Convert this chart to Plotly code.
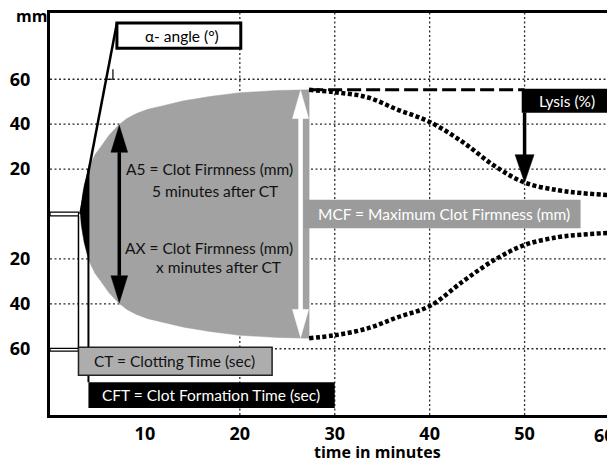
import plotly.graph_objects as go

# ---------------- data ----------------
x_ticks = [10, 20, 30, 40, 50]
x_tick_labels = ["10", "20", "30", "40", "50"]
x_last_label = "60"
y_ticks = [-60, -40, -20, 20, 40, 60]
y_tick_labels = ["60", "40", "20", "20", "40", "60"]
grid_x = [20, 30, 40, 50]
grid_y = [-60, -40, -20, 20, 40, 60]

# clot firmness curve (minutes, mm)
clot_t = [3.2, 3.3, 3.45, 3.62, 3.82, 4.05, 4.35, 4.75, 5.3, 6.2, 7.2, 8.1, 9.1, 10.3, 11.7, 14.1, 17.0, 20.0, 24.0, 27.3]
clot_amp = [0, 5, 9, 13, 16.8, 20, 23, 26.5, 29.6, 35, 39.5, 42.5, 44.7, 46.6, 48, 50.4, 52.4, 54, 55, 55.3]

# lysis curves after MCF
lysis_t = [27.3, 30, 33.4, 36.6, 40, 43.5, 46.8, 50, 53.5, 56, 59]
lysis_upper = [55.3, 54.2, 52, 46.5, 41, 32, 21.5, 14, 10.6, 9.3, 8.4]
lysis_lower = [-55.3, -54, -51, -46, -41, -30, -20.5, -13.8, -10.3, -9.2, -8.4]

ct_time = 3.0
cft_time = 4.05
cft_amp = 20
a5_time = 7.3
a5_amp = 39.5
mcf_time = 26.4
mcf_amp = 55.3
lysis_time = 50
lysis_amp = 14
alpha_t = [3.2, 7.05]
alpha_a = [0, 85]

# ---------------- figure ----------------
fig = go.Figure()

tip_up = [(t, a) for t, a in zip(clot_t, clot_amp) if t <= cft_time]
body_up = [(t, a) for t, a in zip(clot_t, clot_amp) if t >= cft_time]
tip_x = [p[0] for p in tip_up] + [p[0] for p in reversed(tip_up)]
tip_y = [p[1] for p in tip_up] + [-p[1] for p in reversed(tip_up)]
body_x = [p[0] for p in body_up] + [p[0] for p in reversed(body_up)]
body_y = [p[1] for p in body_up] + [-p[1] for p in reversed(body_up)]

fig.add_trace(go.Scatter(x=body_x, y=body_y, fill="toself", fillcolor="#a2a2a2",
                         line=dict(color="#a2a2a2", width=0.5), mode="lines",
                         hoverinfo="skip", showlegend=False))
fig.add_trace(go.Scatter(x=tip_x, y=tip_y, fill="toself", fillcolor="black",
                         line=dict(color="black", width=0.5), mode="lines",
                         hoverinfo="skip", showlegend=False))

for ys in (lysis_upper, lysis_lower):
    fig.add_trace(go.Scatter(x=lysis_t, y=ys, mode="lines",
                             line=dict(color="black", width=4.5, dash="4px,2.5px", shape="spline"),
                             hoverinfo="skip", showlegend=False))

fig.add_trace(go.Scatter(x=[clot_t[-1], lysis_time], y=[mcf_amp, mcf_amp], mode="lines",
                         line=dict(color="black", width=3, dash="14px,5px"),
                         hoverinfo="skip", showlegend=False))

shapes = []
for gx in grid_x:
    shapes.append(dict(type="line", x0=gx, x1=gx, y0=-89.5, y1=89.5, layer="below",
                       line=dict(color="#2a2a2a", width=1.3, dash="2px,2.5px")))
for gy in grid_y:
    shapes.append(dict(type="line", x0=0, x1=59, y0=gy, y1=gy, layer="below",
                       line=dict(color="#2a2a2a", width=1.3, dash="2px,2.5px")))

def tri(xc, ytip, hw, length, direction):
    yb = ytip - direction * length
    return f"M {xc-hw},{yb} L {xc+hw},{yb} L {xc},{ytip} Z"

shapes.append(dict(type="rect", x0=0, x1=ct_time, y0=-0.8, y1=0.8, fillcolor="white",
                   line=dict(color="black", width=1.2)))
shapes.append(dict(type="rect", x0=0, x1=ct_time, y0=-61.1, y1=-59.8, fillcolor="white",
                   line=dict(color="black", width=1.2)))
shapes.append(dict(type="line", x0=ct_time, x1=ct_time, y0=-0.8, y1=-59.8,
                   line=dict(color="black", width=1.5)))
shapes.append(dict(type="line", x0=cft_time, x1=cft_time, y0=cft_amp, y1=-74.9,
                   line=dict(color="black", width=2)))
shapes.append(dict(type="line", x0=alpha_t[0], x1=alpha_t[1], y0=alpha_a[0], y1=alpha_a[1],
                   line=dict(color="black", width=2.5)))
t60 = alpha_t[0] + (60 - alpha_a[0]) / (alpha_a[1] - alpha_a[0]) * (alpha_t[1] - alpha_t[0])
shapes.append(dict(type="path", path=f"M {t60},60 L 6.63,60 L 6.63,64.5",
                   line=dict(color="black", width=1.2)))

head_w, head_l = 0.88, 12
shapes.append(dict(type="line", x0=a5_time, x1=a5_time, y0=-a5_amp + head_l, y1=a5_amp - head_l,
                   line=dict(color="black", width=3.5)))
shapes.append(dict(type="path", path=tri(a5_time, a5_amp, head_w, head_l, 1),
                   fillcolor="black", line=dict(color="black", width=0.5)))
shapes.append(dict(type="path", path=tri(a5_time, -a5_amp, head_w, head_l, -1),
                   fillcolor="black", line=dict(color="black", width=0.5)))

shapes.append(dict(type="line", x0=mcf_time, x1=mcf_time, y0=-mcf_amp + 12, y1=mcf_amp - 12,
                   line=dict(color="white", width=4.5)))
shapes.append(dict(type="path", path=tri(mcf_time, mcf_amp - 0.3, 0.85, 12.5, 1),
                   fillcolor="white", line=dict(color="white", width=0.5)))
shapes.append(dict(type="path", path=tri(mcf_time, -mcf_amp + 0.3, 0.85, 12.5, -1),
                   fillcolor="white", line=dict(color="white", width=0.5)))

shapes.append(dict(type="rect", x0=7.05, x1=20.1, y0=73.8, y1=85, fillcolor="white",
                   line=dict(color="black", width=3)))
shapes.append(dict(type="rect", x0=26.75, x1=55.9, y0=-6.3, y1=6.3, fillcolor="#9b9b9b",
                   line=dict(width=0)))
shapes.append(dict(type="rect", x0=ct_time, x1=23.4, y0=-71.8, y1=-59.3, fillcolor="#adadad",
                   line=dict(color="#222", width=1.5)))
shapes.append(dict(type="rect", x0=cft_time, x1=30, y0=-86.4, y1=-74.9, fillcolor="black",
                   line=dict(width=0)))
shapes.append(dict(type="rect", x0=49.7, x1=59, y0=45.1, y1=mcf_amp + 0.5, fillcolor="black",
                   line=dict(width=0)))
shapes.append(dict(type="line", x0=lysis_time, x1=lysis_time, y0=45.1, y1=lysis_amp + 12,
                   line=dict(color="black", width=3.5)))
shapes.append(dict(type="path", path=tri(lysis_time, lysis_amp, 1.0, 12.4, -1),
                   fillcolor="black", line=dict(color="black", width=0.5)))

fig.update_layout(shapes=shapes)

TXT = "Lato"
annots = [
    dict(x=16.8, y=20.2, text="A5 = Clot Firmness (mm)", color="#111"),
    dict(x=17.4, y=10.4, text="5 minutes after CT", color="#111"),
    dict(x=16.8, y=-15.3, text="AX = Clot Firmness (mm)", color="#111"),
    dict(x=17.8, y=-23.8, text="x minutes after CT", color="#111"),
    dict(x=41.5, y=0, text="MCF = Maximum Clot Firmness (mm)", color="white"),
    dict(x=13.1, y=-65.6, text="CT = Clotting Time (sec)", color="#111"),
    dict(x=17.0, y=-80.7, text="CFT = Clot Formation Time (sec)", color="white"),
    dict(x=13.9, y=79.4, text="α- angle (°)", color="black"),
    dict(x=54.5, y=50.4, text="Lysis (%)", color="white"),
]
for a in annots:
    fig.add_annotation(x=a["x"], y=a["y"], text=a["text"], showarrow=False,
                       xanchor="center", yanchor="middle",
                       font=dict(family=TXT, size=15.5, color=a["color"]))

BOLD = "Open Sans"
fig.add_annotation(x=-0.033, y=1.0, xref="paper", yref="paper", text="<b>mm</b>",
                   showarrow=False, xanchor="center", yanchor="middle", yshift=-3,
                   font=dict(family=BOLD, size=16, color="black"))
fig.add_annotation(x=0.99, y=0, xref="paper", yref="paper", text="<b>" + x_last_label + "</b>",
                   showarrow=False, xanchor="center", yanchor="top", yshift=-6,
                   font=dict(family=BOLD, size=18, color="black"))
fig.add_annotation(x=0.585, y=-0.092, xref="paper", yref="paper", text="<b>time in minutes</b>",
                   showarrow=False, xanchor="center", yanchor="middle",
                   font=dict(family=BOLD, size=16, color="black"))

fig.update_xaxes(range=[0, 59], tickvals=x_ticks, ticktext=["<b>%s</b>" % s for s in x_tick_labels],
                 showgrid=False, zeroline=False, showline=True, linewidth=3, linecolor="black",
                 mirror=True, ticks="", tickfont=dict(family=BOLD, size=18, color="black"))
fig.update_yaxes(range=[-89.5, 89.5], tickvals=y_ticks, ticktext=["<b>%s</b>" % s for s in y_tick_labels],
                 showgrid=False, zeroline=False, showline=True, linewidth=3, linecolor="black",
                 mirror=True, ticks="", ticklabelstandoff=13,
                 tickfont=dict(family=BOLD, size=18, color="black"))

# page body has an 8px margin: shrink the figure so the plot area lands where the reference has it
fig.update_layout(width=607, height=452, margin=dict(l=36, r=2, t=4, b=45),
                  plot_bgcolor="white", paper_bgcolor="white", showlegend=False)

fig.write_html("out.html")
